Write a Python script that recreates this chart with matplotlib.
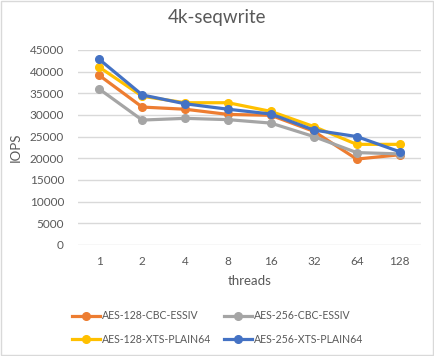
import matplotlib.pyplot as plt

threads = ["1", "2", "4", "8", "16", "32", "64", "128"]
aes128_cbc = [39100, 31800, 31300, 30100, 29900, 26200, 19800, 20800]
aes256_cbc = [35950, 28800, 29200, 28900, 28100, 25000, 21300, 21000]
aes128_xts = [41000, 34300, 32800, 32800, 30800, 27300, 23200, 23200]
aes256_xts = [42800, 34600, 32560, 31300, 30200, 26500, 25000, 21500]

series = [
    ("AES-128-CBC-ESSIV", aes128_cbc, "#ED7D31"),
    ("AES-256-CBC-ESSIV", aes256_cbc, "#A5A5A5"),
    ("AES-128-XTS-PLAIN64", aes128_xts, "#FFC000"),
    ("AES-256-XTS-PLAIN64", aes256_xts, "#4472C4"),
]

plt.rcParams["font.family"] = ["Lato", "DejaVu Sans"]
txt = "#595959"

fig = plt.figure(figsize=(4.35, 3.56), dpi=100)
ax = fig.add_axes([0.179, 0.312, 0.789, 0.548])
x = list(range(len(threads)))
lines = []
for name, vals, col in series:
    ln, = ax.plot(x, vals, color=col, lw=2.3, marker="o", ms=5.5, label=name)
    lines.append(ln)

ax.set_xlim(-0.5, len(threads) - 0.5)
ax.set_ylim(0, 45000)
ax.set_yticks(range(0, 45001, 5000))
ax.set_xticks(x)
ax.set_xticklabels(threads)
ax.tick_params(length=0, labelsize=8.5, colors=txt, pad=8)
ax.tick_params(axis="y", pad=10)
for s in ax.spines.values():
    s.set_visible(False)
ax.grid(axis="y", color="#D9D9D9", lw=1)
ax.set_axisbelow(True)
ax.set_xlabel("threads", fontsize=9.5, color=txt, labelpad=6)
ax.set_ylabel("IOPS", fontsize=9.5, color=txt, labelpad=6)

fig.text(0.5, 0.95, "4k-seqwrite", ha="center", va="center", fontsize=13.5, color=txt)
# row-wise legend order: matplotlib fills columns first
order = [0, 2, 1, 3]
fig.legend([lines[i] for i in order], [series[i][0] for i in order],
           loc="center", bbox_to_anchor=(0.5, 0.08), ncol=2, frameon=False,
           fontsize=7.6, labelcolor=txt, handlelength=2.7, handletextpad=0.15,
           columnspacing=1.2, labelspacing=1.15)

fig.patches.append(plt.Rectangle((0.002, 0.002), 0.994, 0.994, transform=fig.transFigure,
                                 fill=False, ec="#D9D9D9", lw=1))
fig.savefig("out.png", dpi=100)
